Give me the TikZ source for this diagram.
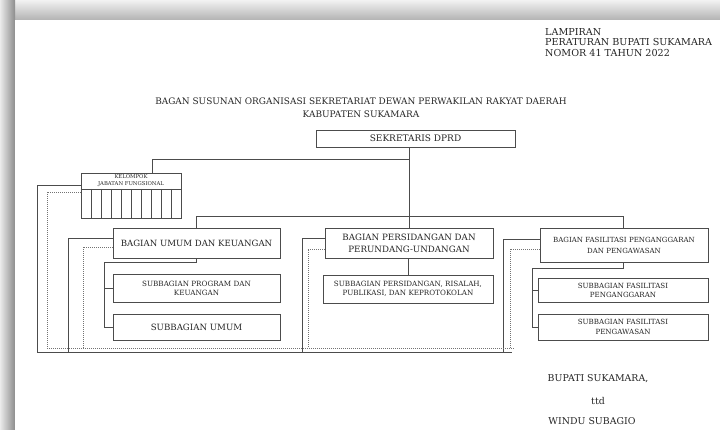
\documentclass[tikz,border=0pt]{standalone}
\usepackage{fontspec}
\setmainfont{DejaVu Serif}
\begin{document}
\begin{tikzpicture}[x=1pt,y=-1pt,
 box/.style={draw=black!70, line width=0.6pt, inner sep=0pt, align=center, text=black!85},
 ln/.style={draw=black!70, line width=0.6pt},
 dl/.style={draw=black!55, line width=0.5pt, dash pattern=on 1pt off 1pt},
 txt/.style={text=black!85, inner sep=0pt, align=center},
 f/.style 2 args={font=\fontsize{#1}{#2}\selectfont}]
\useasboundingbox (0,0) rectangle (720,430);
\fill[white] (0,0) rectangle (720,430);
\shade[top color=black!5, bottom color=black!30] (0,0) rectangle (720,20);
\shade[left color=black!8, right color=black!45] (0,0) rectangle (15,430);
\fill[white] (15,20) rectangle (720,430);
% header
\node[txt, anchor=north west, align=left, f={9.6}{10.7}] (hdr) at (545,28) {LAMPIRAN\\PERATURAN BUPATI SUKAMARA\\NOMOR 41 TAHUN 2022};
\node[txt, f={8.95}{10}] (title) at (361,101) {BAGAN SUSUNAN ORGANISASI SEKRETARIAT DEWAN PERWAKILAN RAKYAT DAERAH};
\node[txt, f={8.95}{10}] (title2) at (361,114) {KABUPATEN SUKAMARA};
% boxes
\node[box, minimum width=199, minimum height=17, f={9}{10}] (sek) at (415.5,138.5) {SEKRETARIS DPRD};
\node[box, minimum width=100, minimum height=45] (kjf) at (131,195.5) {};
\node[txt, f={5.3}{7}] (kjft) at (131,181) {KELOMPOK\\JABATAN FUNGSIONAL};
\draw[ln] (kjf.west |- 0,189) -- (kjf.east |- 0,189);
\foreach \i in {1,...,9} \draw[ln] (81+10*\i,189) -- (81+10*\i,218);
\node[box, minimum width=167, minimum height=30, f={8.6}{10}] (bu) at (196.5,243) {BAGIAN UMUM DAN KEUANGAN};
\node[box, minimum width=168, minimum height=30, f={8.7}{12}] (bp) at (409,243) {BAGIAN PERSIDANGAN DAN\\PERUNDANG-UNDANGAN};
\node[box, minimum width=168, minimum height=34, f={7.05}{11}] (bf) at (624,245) {BAGIAN FASILITASI PENGANGGARAN\\DAN PENGAWASAN};
\node[box, minimum width=167, minimum height=28, f={7.2}{9}] (s1) at (196.5,288) {SUBBAGIAN PROGRAM DAN\\KEUANGAN};
\node[box, minimum width=167, minimum height=26, f={8.65}{10}] (s2) at (196.5,327) {SUBBAGIAN UMUM};
\node[box, minimum width=170, minimum height=28, f={7.2}{8.5}] (s3) at (408,289) {SUBBAGIAN PERSIDANGAN, RISALAH,\\PUBLIKASI, DAN KEPROTOKOLAN};
\node[box, minimum width=170, minimum height=24, f={7.1}{9}] (s4) at (623,290) {SUBBAGIAN FASILITASI\\PENGANGGARAN};
\node[box, minimum width=170, minimum height=26, f={7.1}{10}] (s5) at (623,327) {SUBBAGIAN FASILITASI\\PENGAWASAN};
% footer
\node[txt, f={9.4}{10}] (bup) at (598,379) {BUPATI SUKAMARA,};
\node[txt, f={9.4}{10}] (ttd) at (598,401) {ttd};
\node[txt, f={9.4}{10}] (nm) at (592,421) {WINDU SUBAGIO};
% coordinates
\coordinate (c1) at (409,159);
\coordinate (c2) at (152,159);
\coordinate (h1) at (196,216);
\coordinate (h2) at (623,216);
\coordinate (u1) at (196,262);
\coordinate (u2) at (104,262);
\coordinate (f1) at (623,268);
\coordinate (f2) at (532,268);
% connectors
\draw[ln] (sek.south -| bp.north) -- (bp.north);
\draw[ln] (c1) -- (c2) -- (c2 |- kjf.north);
\draw[ln] (h1 |- bu.north) -- (h1) -- (h2) -- (h2 |- bf.north);
\draw[ln] (u1 |- bu.south) -- (u1) -- (u2) |- (s2.west);
\draw[ln] (u2 |- s1.west) -- (s1.west);
\draw[ln] (bp.south -| s3.north) -- (s3.north);
\draw[ln] (f1 |- bf.south) -- (f1) -- (f2) |- (s5.west);
\draw[ln] (f2 |- s4.west) -- (s4.west);
% coordination lines
\coordinate (k1) at (37,185);
\coordinate (k2) at (47,192);
\coordinate (b1) at (68,238);
\coordinate (b2) at (83,247);
\coordinate (p1) at (302,238);
\coordinate (p2) at (308,249);
\coordinate (q1) at (503,239);
\coordinate (q2) at (510,249);
\coordinate (z1) at (512,352);
\coordinate (z2) at (514,348);
\draw[ln] (kjf.west |- k1) -- (k1) -- (k1 |- z1) -- (z1);
\draw[ln] (bu.west |- b1) -- (b1) -- (b1 |- z1);
\draw[ln] (bp.west |- p1) -- (p1) -- (p1 |- z1);
\draw[ln] (bf.west |- q1) -- (q1) -- (q1 |- z1);
\draw[dl] (kjf.west |- k2) -- (k2) -- (k2 |- z2) -- (z2);
\draw[dl] (bu.west |- b2) -- (b2) -- (b2 |- z2);
\draw[dl] (bp.west |- p2) -- (p2) -- (p2 |- z2);
\draw[dl] (bf.west |- q2) -- (q2) -- (q2 |- z2);
\end{tikzpicture}
\end{document}
